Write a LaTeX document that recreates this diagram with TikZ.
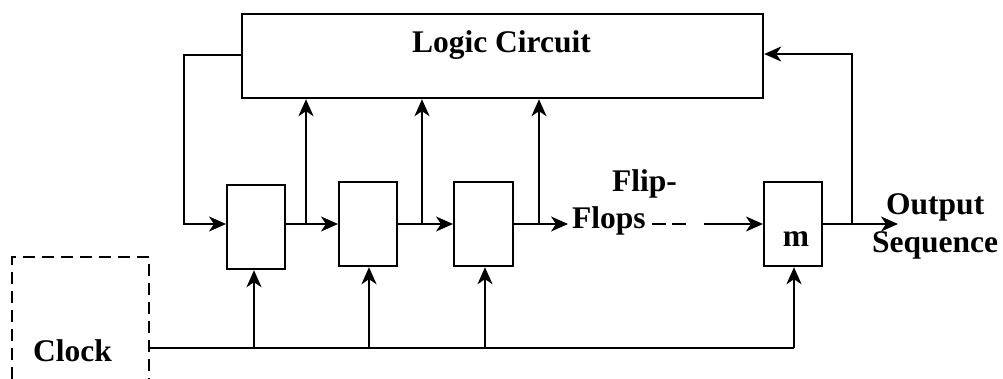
\documentclass[tikz,border=0pt]{standalone}
\usepackage{fontspec}
\setmainfont{Liberation Serif}
\usetikzlibrary{arrows.meta}
\begin{document}
\begin{tikzpicture}[x=1pt,y=-1pt,
  wire/.style={line width=2.2pt},
  arr/.style={wire,-{Stealth[length=17pt,width=15pt,inset=5pt]}},
  box/.style={draw,line width=2.2pt,inner sep=0pt,anchor=north west},
  lbl/.style={font=\fontsize{31.5}{36}\selectfont\bfseries,inner sep=0pt}]
\useasboundingbox (0,0) rectangle (1003,379);

% logic block
\node[box,minimum width=521pt,minimum height=84pt] (logic) at (241,13) {};
\node[lbl,anchor=base] (logictext) at (501.5,53) {Logic Circuit};

% flip-flop stages
\node[box,minimum width=58pt,minimum height=84pt] (ff1) at (226,184) {};
\node[box,minimum width=58pt,minimum height=84pt] (ff2) at (338,181) {};
\node[box,minimum width=59pt,minimum height=84pt] (ff3) at (453,181) {};
\node[box,minimum width=58pt,minimum height=84pt] (ffm) at (763,181) {};
\node[lbl,anchor=base] (mtext) at (796,247) {m};

% clock source
\draw[line width=2pt,dash pattern=on 12pt off 7pt] (12,379) -- (12,257) -- (149,257) -- (149,379);
\coordinate (clk) at (150,348);
\node[lbl,anchor=base west] (clocktext) at (33,361) {Clock};

% labels
\node[lbl,anchor=base west] (flip) at (612,192) {Flip-};
\node[lbl,anchor=base west] (flops) at (572,229) {Flops};
\node[lbl,anchor=base west] (out1) at (886,215) {Output};
\node[lbl,anchor=base west] (out2) at (872,252) {Sequence};

% feedback from logic into first stage
\coordinate (fbL) at (184,55);
\draw[arr] (logic.west |- fbL) -- (fbL) -- (184,224) -- (ff1.west |- 0,224);

% chain between stages with taps to the logic block
\coordinate (t1) at (306,224);
\coordinate (t2) at (422,224);
\coordinate (t3) at (539,224);
\draw[arr] (ff1.east |- t1) -- (ff2.west |- t1);
\draw[arr] (t1) -- (t1 |- logic.south);
\draw[arr] (ff2.east |- t2) -- (ff3.west |- t2);
\draw[arr] (t2) -- (t2 |- logic.south);
\draw[arr] (ff3.east |- t3) -- (568,224);
\draw[arr] (t3) -- (t3 |- logic.south);

% dashed continuation to the last stage
\draw[line width=1.6pt,dash pattern=on 14pt off 6pt] (652,224) -- (686,224);
\coordinate (dm) at (704,224);
\draw[arr] (dm) -- (ffm.west |- dm);

% output and feedback from last stage
\coordinate (t4) at (852,224);
\coordinate (fbR) at (852,54);
\draw[arr] (ffm.east |- t4) -- (898,224);
\draw[arr] (t4) -- (fbR) -- (logic.east |- fbR);

% clock distribution
\coordinate (c4) at (794,348);
\draw[line width=1.6pt] (clk) -- (c4);
\draw[arr] (254,348) -- (254,348 |- ff1.south);
\draw[arr] (369,348) -- (369,348 |- ff2.south);
\draw[arr] (485,348) -- (485,348 |- ff3.south);
\draw[arr] (c4) -- (c4 |- ffm.south);
\end{tikzpicture}
\end{document}
